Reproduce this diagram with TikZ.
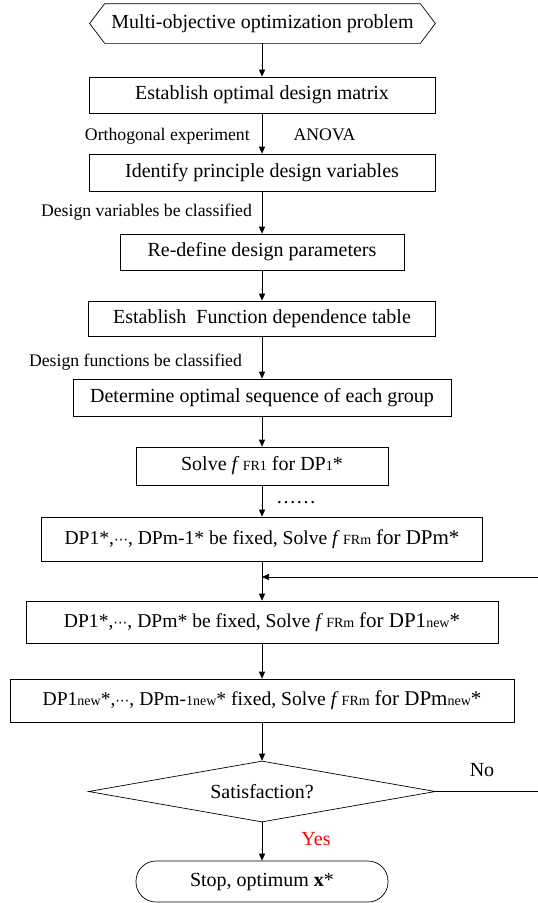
\documentclass[tikz,border=0pt]{standalone}
\usepackage{fontspec}
\setmainfont{Liberation Serif}
\newfontfamily\symfont{DejaVu Sans}
\usepackage{tikz}
\usetikzlibrary{arrows.meta,shapes.geometric}

\newcommand{\bigsize}{\fontsize{20}{24}\selectfont}
\newcommand{\dpsize}{\fontsize{19.6}{23}\selectfont}
\newcommand{\lblsize}{\fontsize{17.7}{21}\selectfont}
\newcommand{\sm}[1]{{\fontsize{14}{16}\selectfont #1}}
\newcommand{\bigfor}[1]{{\fontsize{21}{24}\selectfont #1}}
\newcommand{\dts}{{\symfont\fontsize{14}{16}\selectfont ⋯}}

\tikzset{
  proc/.style={draw, rectangle, inner sep=0pt, font=\bigsize},
  lbl/.style={inner sep=0pt, font=\lblsize, anchor=base},
  arr/.style={-{Triangle[length=7pt,width=6pt]}}
}

\begin{document}
\begin{tikzpicture}[x=1pt, y=-1pt, line width=0.7pt]
            \useasboundingbox (0,0) rectangle (538,903);
            \node[inner sep=0pt, minimum width=315pt, minimum height=39pt, font=\bigsize] (start) at (262.5,23.5) {Multi-objective optimization problem};
            \draw (start.north west) -- (start.north east) -- ([xshift=15pt]start.east) -- (start.south east) -- (start.south west) -- ([xshift=-15pt]start.west) -- cycle;
            \node[proc, minimum width=346pt, minimum height=36pt] (estab) at (262,95) {Establish optimal design matrix};
            \node[proc, minimum width=346pt, minimum height=37pt] (ident) at (262,172.5) {Identify principle design variables};
            \node[proc, minimum width=284pt, minimum height=36pt] (redef) at (262,252) {Re-define design parameters};
            \node[proc, minimum width=347pt, minimum height=35pt] (deptable) at (262,318.5) {Establish\ \ Function dependence table};
            \node[proc, minimum width=378pt, minimum height=37pt] (sequence) at (262,397.5) {Determine optimal sequence of each group};
            \node[proc, minimum width=252pt, minimum height=38pt] (solvefirst) at (262,466) {Solve \textit{f}\,\sm{FR1} for DP\sm{1}*};
            \node[proc, font=\dpsize, minimum width=441pt, minimum height=44pt] (solvelast) at (262,539) {DP1*,\dts, DPm-1* be fixed, Solve \textit{f}\,\sm{FRm} \bigfor{for DPm*}};
            \node[proc, font=\dpsize, minimum width=472pt, minimum height=42pt] (newfirst) at (262,622) {DP1*,\dts, DPm* be fixed, Solve \textit{f}\,\sm{FRm} \bigfor{for DP1\sm{new}*}};
            \node[proc, font=\dpsize, minimum width=504pt, minimum height=43pt] (newlast) at (262,700.5) {DP1\sm{new}*,\dts, DPm-\sm{1new}* fixed, Solve \textit{f}\,\sm{FRm} \bigfor{for DPm\sm{new}*}};
            \node[draw, diamond, aspect=5.7, inner sep=0pt, minimum width=347pt, minimum height=61pt, font=\bigsize] (satisf) at (262,791.5) {Satisfaction?};
            \node[draw, rectangle, rounded corners=20pt, inner sep=0pt, minimum width=252pt, minimum height=41pt, font=\bigsize] (stop) at (262,881.5) {Stop, optimum \textbf{x}*};
            \node[lbl, anchor=base east] (ortho) at (250,140) {Orthogonal experiment};
            \node[lbl] (anova) at (324.5,140) {ANOVA};
            \node[lbl] (varclass) at (146.5,216) {Design variables be classified};
            \node[lbl] (funclass) at (135.5,366) {Design functions be classified};
            \node[lbl, font=\bigsize] (dots) at (296,503) {……};
            \node[lbl, font=\bigsize] (no) at (482,776) {No};
            \node[lbl, font=\bigsize, text=red] (yes) at (316,845) {Yes};
            \coordinate (join) at (262,577);
            \coordinate (back) at (545,577);
            \draw[arr] (start.south -| estab.north) -- (estab);
            \draw[arr] (estab) -- (ident);
            \draw[arr] (ident) -- (redef);
            \draw[arr] (redef) -- (deptable);
            \draw[arr] (deptable) -- (sequence);
            \draw[arr] (sequence) -- (solvefirst);
            \draw[arr] (solvefirst) -- (solvelast);
            \draw[arr] (solvelast) -- (newfirst);
            \draw[arr] (newfirst) -- (newlast);
            \draw[arr] (newlast) -- (satisf);
            \draw[arr] (satisf) -- (stop);
            \draw[arr] (satisf.east) -| (back) -- (join);
        \end{tikzpicture}
\end{document}
